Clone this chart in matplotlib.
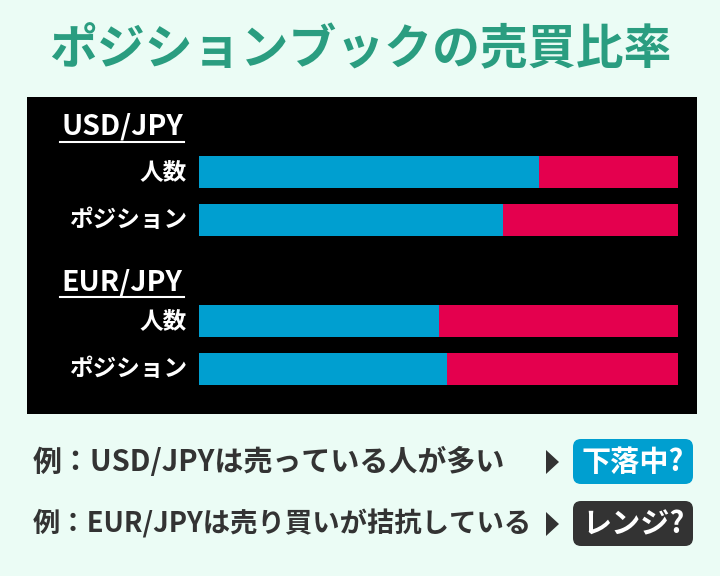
import matplotlib.pyplot as plt
from matplotlib.patches import Rectangle, FancyBboxPatch, Polygon

plt.rcParams['font.family'] = ['Noto Sans CJK JP', 'DejaVu Sans']

# data -----------------------------------------------------------------------
title = "ポジションブックの売買比率"
pairs = ["USD/JPY", "EUR/JPY"]
rows = ["人数", "ポジション"]
# share of the blue (buy) part, per pair, per row
buy_share = {"USD/JPY": [0.71, 0.635], "EUR/JPY": [0.50, 0.518]}
notes = ["例：USD/JPYは売っている人が多い", "例：EUR/JPYは売り買いが拮抗している"]
tags = ["下落中?", "レンジ?"]

BG = "#ebfcf5"
GREEN = "#2a9d80"
BLUE = "#009fd0"
RED = "#e4004e"
DARK = "#333333"

W, H = 720, 576
fig = plt.figure(figsize=(7.2, 5.76), dpi=100, facecolor=BG)
ax = fig.add_axes([0, 0, 1, 1])
ax.set_xlim(0, W)
ax.set_ylim(H, 0)
ax.set_axis_off()

ax.text(360, 50, title, ha="center", va="center", fontsize=34.5,
        fontweight="bold", color=GREEN)

# black panel
ax.add_patch(Rectangle((27, 97), 670, 317, facecolor="black", edgecolor="none"))

# bars in their own axes (pixel y coordinates for the rows)
bx0, bx1 = 199, 678
yb0, yb1 = 140, 400
bax = fig.add_axes([bx0 / W, 1 - yb1 / H, (bx1 - bx0) / W, (yb1 - yb0) / H])
bax.set_xlim(0, 1)
bax.set_ylim(yb1, yb0)
bax.set_axis_off()

header_y = [127, 282]
row_y = [[172, 220], [321, 369]]
for pair, hy, ys in zip(pairs, header_y, row_y):
    ax.text(61, hy, pair, ha="left", va="center", fontsize=20.5,
            fontweight="bold", color="white")
    ax.plot([60, 184], [hy + 15, hy + 15], color="white", lw=1.5)
    shares = buy_share[pair]
    bax.barh(ys, shares, height=32, color=BLUE, edgecolor="none")
    bax.barh(ys, [1 - s for s in shares], left=shares, height=32,
             color=RED, edgecolor="none")
    for lab, y in zip(rows, ys):
        ax.text(187, y, lab, ha="right", va="center", fontsize=17,
                fontweight="bold", color="white")

# notes at the bottom (second line is set a touch tighter, as in the source)
note_y = [462, 524]
note_size = [20.9, 19.7]
tag_colors = [BLUE, DARK]
for note, tag, y, fs, tc in zip(notes, tags, note_y, note_size, tag_colors):
    ax.text(33, y, note, ha="left", va="center", fontsize=fs,
            fontweight="bold", color=DARK)
    ax.add_patch(Polygon([[546, y - 12], [559, y], [546, y + 12]],
                         closed=True, facecolor=DARK, edgecolor="none"))
    ax.add_patch(FancyBboxPatch((573, y - 23), 120, 45,
                                boxstyle="round,pad=0,rounding_size=8",
                                facecolor=tc, edgecolor="none"))
    ax.text(633, y, tag, ha="center", va="center", fontsize=21,
            fontweight="bold", color="white")

fig.savefig("out.png", dpi=100, facecolor=BG)
